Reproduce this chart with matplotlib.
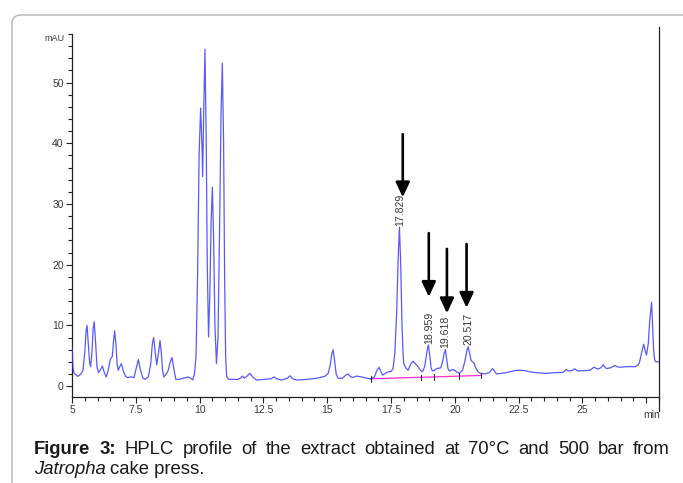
import matplotlib

matplotlib.use("Agg")
import matplotlib.pyplot as plt
from matplotlib.lines import Line2D
from matplotlib.patches import FancyBboxPatch
from matplotlib.ticker import MultipleLocator

# chromatogram trace: retention time (min) vs absorbance (mAU)
time_min = [
    5.00, 5.04, 5.08, 5.23, 5.35, 5.43, 5.50, 5.55, 5.59, 5.64, 5.69, 5.73, 5.78, 5.83,
    5.87, 5.92, 5.98, 6.04, 6.10, 6.19, 6.27, 6.34, 6.42, 6.50, 6.58, 6.63, 6.67, 6.72,
    6.77, 6.81, 6.87, 6.93, 7.02, 7.10, 7.17, 7.30, 7.43, 7.52, 7.60, 7.67, 7.78, 7.86,
    7.99, 8.08, 8.15, 8.20, 8.25, 8.32, 8.39, 8.45, 8.50, 8.55, 8.60, 8.70, 8.77, 8.85,
    8.92, 8.99, 9.07, 9.20, 9.36, 9.55, 9.65, 9.73, 9.80, 9.86, 9.92, 9.98, 10.04, 10.09,
    10.12, 10.16, 10.21, 10.26, 10.30, 10.35, 10.40, 10.45, 10.50, 10.55, 10.60, 10.66,
    10.72, 10.78, 10.84, 10.89, 10.94, 10.98, 11.02, 11.06, 11.15, 11.50, 11.60, 11.68,
    11.75, 11.85, 11.97, 12.08, 12.23, 12.50, 12.80, 12.91, 13.02, 13.20, 13.45, 13.54,
    13.65, 13.80, 14.20, 14.60, 14.90, 15.04, 15.12, 15.18, 15.23, 15.28, 15.35, 15.43,
    15.60, 15.73, 15.82, 15.90, 15.99, 16.15, 16.35, 16.54, 16.70, 16.85, 16.95, 17.03,
    17.10, 17.17, 17.28, 17.39, 17.50, 17.58, 17.65, 17.72, 17.78, 17.83, 17.88, 17.93,
    17.97, 18.00, 18.08, 18.17, 18.27, 18.36, 18.45, 18.56, 18.65, 18.73, 18.82, 18.90,
    18.96, 19.02, 19.07, 19.12, 19.20, 19.30, 19.45, 19.53, 19.58, 19.63, 19.68, 19.73,
    19.78, 19.85, 19.93, 20.05, 20.17, 20.30, 20.40, 20.47, 20.52, 20.58, 20.64, 20.69,
    20.75, 20.82, 20.91, 21.00, 21.15, 21.35, 21.48, 21.55, 21.63, 21.80, 22.00, 22.20,
    22.42, 22.60, 22.80, 22.94, 23.20, 23.59, 23.90, 24.24, 24.37, 24.45, 24.53, 24.62,
    24.70, 24.80, 24.89, 25.10, 25.29, 25.45, 25.61, 25.72, 25.81, 25.90, 25.96, 26.10,
    26.27, 26.35, 26.46, 26.72, 26.90, 27.09, 27.20, 27.24, 27.32, 27.40, 27.46, 27.51,
    27.58, 27.64, 27.71, 27.75, 27.79, 27.83, 27.87, 28.00,
]
absorbance = [
    6.4, 3.0, 2.1, 1.6, 2.0, 2.6, 5.5, 9.0, 10.0, 7.0, 3.8, 3.2, 5.5, 9.5,
    10.6, 7.5, 3.2, 2.2, 2.6, 3.3, 2.2, 1.5, 2.6, 4.4, 4.9, 7.5, 9.1, 7.0,
    3.6, 2.6, 3.2, 3.7, 2.4, 1.6, 1.4, 1.5, 1.4, 3.0, 4.4, 2.8, 1.3, 1.1,
    1.5, 3.5, 7.0, 8.0, 6.0, 3.5, 5.5, 7.5, 5.5, 2.5, 1.5, 2.0, 2.6, 4.0,
    4.7, 2.8, 1.1, 1.1, 1.3, 1.5, 1.3, 1.0, 2.0, 5.0, 18.0, 38.0, 45.8, 40.0,
    34.5, 45.0, 55.5, 40.0, 20.0, 8.1, 15.0, 27.0, 32.8, 24.0, 10.0, 3.7,
    8.0, 25.0, 45.0, 53.2, 40.0, 18.0, 5.0, 1.5, 1.1, 1.1, 1.3, 1.65,
    1.3, 1.6, 2.1, 1.5, 1.0, 1.1, 1.2, 1.5, 1.2, 1.0, 1.3, 1.7,
    1.2, 1.0, 1.1, 1.3, 1.6, 2.1, 3.5, 5.3, 6.0, 4.5, 2.0, 1.3,
    1.3, 1.8, 2.0, 1.6, 1.4, 1.65, 1.5, 1.3, 1.2, 1.5, 2.6, 3.1,
    2.4, 1.8, 2.1, 2.35, 2.4, 2.9, 5.5, 12.0, 21.0, 26.2, 20.0, 10.0,
    5.5, 3.7, 3.0, 2.6, 3.6, 4.1, 3.7, 3.2, 2.6, 2.35, 3.2, 5.5,
    6.8, 5.0, 3.0, 2.5, 2.6, 2.9, 3.0, 4.2, 5.4, 6.0, 4.5, 2.9,
    2.5, 2.6, 2.75, 2.4, 2.1, 2.6, 4.2, 5.8, 6.5, 5.4, 4.2, 4.0,
    3.8, 3.0, 2.35, 2.1, 2.0, 2.2, 2.9, 2.5, 2.0, 2.1, 2.2, 2.4,
    2.6, 2.6, 2.5, 2.35, 2.2, 2.1, 2.2, 2.25, 2.75, 2.5, 2.5, 2.6,
    2.85, 2.5, 2.5, 2.55, 2.6, 3.1, 2.8, 3.0, 3.5, 3.0, 2.9, 3.0,
    3.4, 3.2, 3.1, 3.2, 3.2, 3.2, 3.6, 4.0, 5.5, 6.9, 5.8, 5.1,
    7.0, 11.0, 13.8, 10.0, 5.9, 4.3, 4.0, 4.0,
]

# integration baseline (pink) and its split marks
baseline_time = [16.70, 18.67, 19.17, 20.17, 21.04]
baseline_mau = [1.20, 1.45, 1.51, 1.64, 1.75]

# labelled peaks
peak_time = [17.829, 18.959, 19.618, 20.517]
peak_top = [26.2, 6.8, 6.0, 6.5]
peak_labels = ["17.829", "18.959", "19.618", "20.517"]

# arrows pointing at the peaks of interest
arrow_time = [17.96, 18.98, 19.69, 20.46]
arrow_top = [41.5, 25.2, 22.6, 23.4]
arrow_tip = [31.1, 14.7, 12.0, 12.9]

x_major = [5, 7.5, 10, 12.5, 15, 17.5, 20, 22.5, 25, 27.5]
x_labels = ["5", "7.5", "10", "12.5", "15", "17.5", "20", "22.5", "25", ""]

TRACE = "#3b3bff"
INK = "#222222"
LABEL = "#3a3a3a"
NARROW = ["Liberation Sans Narrow", "Liberation Sans", "DejaVu Sans"]
SANS = ["Liberation Sans", "DejaVu Sans"]

fig = plt.figure(figsize=(6.83, 4.83), dpi=100)
W, H = 683, 483

# grey rounded frame of the journal figure box
fig.add_artist(
    FancyBboxPatch(
        (12, -40), 720, 508,
        boxstyle="round,pad=0,rounding_size=9",
        transform=None, fill=False, edgecolor="#b4b4b4", linewidth=1.0,
    )
)

ax = fig.add_axes([72 / W, 86 / H, (659 - 72) / W, (449 - 86) / H])
ax.plot(time_min, absorbance, color=TRACE, linewidth=0.9, alpha=0.85, zorder=3)

ax.plot(baseline_time, baseline_mau, color="#ff2bd0", linewidth=0.9, zorder=2)
for t, b in zip(baseline_time, baseline_mau):
    ax.plot([t, t], [b - 0.45, b + 0.45], color=INK, linewidth=0.7, zorder=4)

for t, top, lab in zip(peak_time, peak_top, peak_labels):
    ax.text(t + 0.02, top + 0.2, lab, rotation=90, ha="center", va="bottom",
            fontsize=7.6, color=LABEL, family=SANS)

for t, top, tip in zip(arrow_time, arrow_top, arrow_tip):
    ax.annotate(
        "", xy=(t, tip), xytext=(t, top),
        arrowprops=dict(arrowstyle="-|>,head_length=0.75,head_width=0.35",
                        color="black", lw=1.9, mutation_scale=12,
                        shrinkA=0, shrinkB=0),
    )

ax.set_xlim(5, 28)
ax.set_ylim(-1.8, 58)
ax.set_xticks(x_major)
ax.set_xticklabels(x_labels)
ax.xaxis.set_minor_locator(MultipleLocator(0.5))
ax.set_yticks([0, 10, 20, 30, 40, 50])
ax.set_yticks([v for v in range(2, 59, 2) if v % 10], minor=True)
ax.tick_params(which="major", direction="out", length=4, width=0.8, color=INK,
               labelsize=7.5, labelcolor=LABEL, pad=2)
ax.tick_params(which="minor", direction="out", length=3, width=0.8, color=INK)
for lab in ax.get_xticklabels() + ax.get_yticklabels():
    lab.set_family(NARROW)

for side in ("top", "right"):
    ax.spines[side].set_visible(False)
for side in ("left", "bottom"):
    ax.spines[side].set_color(INK)
    ax.spines[side].set_linewidth(0.9)

ax.text(-0.012, 57.3, "mAU", transform=ax.get_yaxis_transform(), ha="right",
        va="center", fontsize=6.5, color=LABEL, family=NARROW)
ax.text(27.72, -0.035, "min", transform=ax.get_xaxis_transform(), ha="center",
        va="top", fontsize=7.5, color=LABEL, family=NARROW)

# right border line of the instrument plot, running past the time axis
fig.add_artist(Line2D([659 / W, 659 / W], [(H - 27) / H, (H - 411) / H],
                      transform=fig.transFigure, color=INK, linewidth=0.9))

# caption, first line justified between the margins
caption_words = [("Figure", "bold"), ("3:", "bold")] + [
    (w, "normal")
    for w in "HPLC profile of the extract obtained at 70°C and 500 bar from".split()
]
renderer = fig.canvas.get_renderer()
left, right, size = 34, 670, 13.3
texts = []
for word, weight in caption_words:
    t = fig.text(0, 1 - 454 / H, word, fontsize=size, weight=weight,
                 family=SANS, color="#1a1a1a", va="baseline")
    texts.append(t)
widths = [t.get_window_extent(renderer).width for t in texts]
gap = (right - left - sum(widths)) / (len(texts) - 1)
x = left
for t, w in zip(texts, widths):
    t.set_x(x / W)
    x += w + gap

line2 = fig.text(left / W, 1 - 474 / H, "Jatropha", fontsize=size, style="italic",
                 family=SANS, color="#1a1a1a", va="baseline")
w2 = line2.get_window_extent(renderer).width
fig.text((left + w2 + 4) / W, 1 - 474 / H, "cake press.", fontsize=size,
         family=SANS, color="#1a1a1a", va="baseline")

fig.savefig("out.png", dpi=100)
